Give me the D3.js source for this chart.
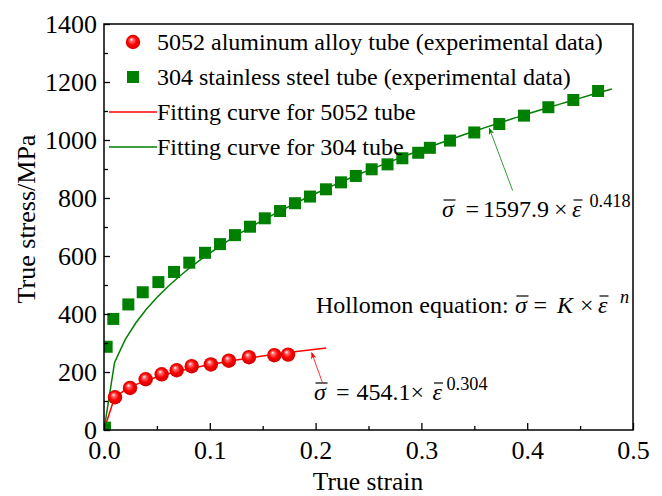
<!DOCTYPE html>
<html>
<head>
<meta charset="utf-8">
<script src="https://cdn.jsdelivr.net/npm/d3@7/dist/d3.min.js"></script>
<style>
  html, body { margin: 0; padding: 0; background: #fff; }
  svg { display: block; }
</style>
</head>
<body>
<svg id="chart" width="662" height="496"></svg>
<script>
// Experimental true stress–strain data
const alStrain = [0.0104, 0.0246, 0.0394, 0.0545, 0.0687, 0.0829, 0.101, 0.118, 0.137, 0.161, 0.174];
const alStress = [113, 145, 175, 192, 206, 220, 226, 239, 251, 258, 260];

const ssStrain = [0.001, 0.0025, 0.0088, 0.023, 0.0366, 0.0514, 0.0662, 0.0806, 0.0955, 0.1096, 0.1238,
                  0.138, 0.152, 0.1664, 0.1805, 0.1947, 0.2098, 0.224, 0.238, 0.253, 0.268, 0.282,
                  0.297, 0.308, 0.327, 0.35, 0.3736, 0.397, 0.42, 0.4436, 0.467];
const ssStress = [8, 287, 383, 433, 475, 510, 545, 577, 611, 641, 672,
                  701, 730, 755, 782, 805, 830, 854, 876, 899, 916, 937,
                  956, 973, 998, 1026, 1055, 1084, 1113, 1138, 1169];

// Hollomon fitting curves, sampled every 0.01 strain
const alFitStrain = [0, 0.01, 0.02, 0.03, 0.04, 0.05, 0.06, 0.07, 0.08, 0.09, 0.10, 0.11,
                     0.12, 0.13, 0.14, 0.15, 0.16, 0.17, 0.18, 0.19, 0.20, 0.21];
const alFitStress = [0, 112.0, 138.3, 156.4, 170.7, 182.7, 193.1, 202.3, 210.7, 218.4, 225.5, 232.1,
                     238.4, 244.2, 249.8, 255.1, 260.2, 265.0, 269.6, 274.1, 278.4, 282.6];

const ssFitStrain = [0, 0.01, 0.02, 0.03, 0.04, 0.05, 0.06, 0.07, 0.08, 0.09, 0.10, 0.11, 0.12,
                     0.13, 0.14, 0.15, 0.16, 0.17, 0.18, 0.19, 0.20, 0.21, 0.22, 0.23, 0.24, 0.25,
                     0.26, 0.27, 0.28, 0.29, 0.30, 0.31, 0.32, 0.33, 0.34, 0.35, 0.36, 0.37, 0.38,
                     0.39, 0.40, 0.41, 0.42, 0.43, 0.44, 0.45, 0.46, 0.47, 0.48];
const ssFitStress = [0, 233.1, 311.4, 369.0, 416.1, 456.8, 493.0, 525.8, 556.0, 584.1, 610.3, 635.1, 658.7,
                     681.1, 702.5, 723.1, 742.8, 761.9, 780.3, 798.2, 815.5, 832.3, 848.6, 864.5, 880.1, 895.2,
                     910.0, 924.5, 938.6, 952.5, 966.1, 979.4, 992.5, 1005.3, 1018.0, 1030.4, 1042.6, 1054.6, 1066.4,
                     1078.1, 1089.5, 1100.8, 1112.0, 1122.9, 1133.8, 1144.5, 1155.1, 1165.5, 1175.8];

// Axis ticks
const xTicks = [0.0, 0.1, 0.2, 0.3, 0.4, 0.5];
const xMinor = [0.05, 0.15, 0.25, 0.35, 0.45];
const yTicks = [0, 200, 400, 600, 800, 1000, 1200, 1400];
const yMinor = [100, 300, 500, 700, 900, 1100, 1300];

// Legend entries
const legendLabels = [
  "5052 aluminum alloy tube (experimental data)",
  "304 stainless steel tube (experimental data)",
  "Fitting curve for 5052 tube",
  "Fitting curve for 304 tube"
];

const FONT = '"Liberation Serif", "Times New Roman", "DejaVu Serif", serif';
const RED = "#ff0000";
const GREEN = "#008000";

const svg = d3.select("#chart").style("font-family", FONT);
const W = 662, H = 496;
const m = { left: 104, top: 24, right: 29, bottom: 66 };
const iw = W - m.left - m.right, ih = H - m.top - m.bottom;

const x = d3.scaleLinear().domain([0, 0.5]).range([0, iw]);
const y = d3.scaleLinear().domain([0, 1400]).range([ih, 0]);

const defs = svg.append("defs");
const grad = defs.append("radialGradient").attr("id", "ball")
  .attr("cx", "50%").attr("cy", "50%").attr("r", "55%")
  .attr("fx", "38%").attr("fy", "32%");
grad.append("stop").attr("offset", "0%").attr("stop-color", "#ffffff");
grad.append("stop").attr("offset", "22%").attr("stop-color", "#ff6a6a");
grad.append("stop").attr("offset", "55%").attr("stop-color", "#ff0000");
grad.append("stop").attr("offset", "100%").attr("stop-color", "#c80000");

defs.append("clipPath").attr("id", "plotClip")
  .append("rect").attr("width", iw).attr("height", ih);

["red", "green"].forEach(c => {
  defs.append("marker").attr("id", "arrow-" + c)
    .attr("viewBox", "0 0 10 10").attr("refX", 9).attr("refY", 5)
    .attr("markerWidth", 9).attr("markerHeight", 7).attr("markerUnits", "userSpaceOnUse")
    .attr("orient", "auto")
    .append("path").attr("d", "M0,1 L10,5 L0,9 L3,5 Z")
    .attr("fill", c === "red" ? RED : GREEN);
});

const g = svg.append("g").attr("transform", `translate(${m.left},${m.top})`);
const plot = g.append("g").attr("clip-path", "url(#plotClip)");

// Fitting curves
const line = d3.line().x(d => x(d[0])).y(d => y(d[1]));
plot.append("path").datum(d3.zip(ssFitStrain, ssFitStress))
  .attr("d", line).attr("fill", "none").attr("stroke", GREEN).attr("stroke-width", 1.5);
plot.append("path").datum(d3.zip(alFitStrain, alFitStress))
  .attr("d", line).attr("fill", "none").attr("stroke", RED).attr("stroke-width", 1.5);

// Experimental points
const sq = 12;
plot.selectAll("rect.ss").data(d3.zip(ssStrain, ssStress)).join("rect")
  .attr("class", "ss")
  .attr("x", d => x(d[0]) - sq / 2).attr("y", d => y(d[1]) - sq / 2)
  .attr("width", sq).attr("height", sq).attr("fill", GREEN);
plot.selectAll("circle.al").data(d3.zip(alStrain, alStress)).join("circle")
  .attr("class", "al")
  .attr("cx", d => x(d[0])).attr("cy", d => y(d[1])).attr("r", 7.2)
  .attr("fill", "url(#ball)");

// Axes (ticks point inward)
g.append("g").attr("transform", `translate(0,${ih})`)
  .call(d3.axisBottom(x).tickValues(xTicks).tickFormat(d3.format(".1f"))
    .tickSizeInner(-7).tickSizeOuter(0).tickPadding(11));
g.append("g").attr("transform", `translate(0,${ih})`)
  .call(d3.axisBottom(x).tickValues(xMinor).tickFormat("").tickSizeInner(-4).tickSizeOuter(0));
g.append("g")
  .call(d3.axisLeft(y).tickValues(yTicks).tickFormat(d3.format("d"))
    .tickSizeInner(-6).tickSizeOuter(0).tickPadding(7));
g.append("g")
  .call(d3.axisLeft(y).tickValues(yMinor).tickFormat("").tickSizeInner(-4).tickSizeOuter(0));

g.selectAll(".tick line").attr("stroke", "#000").attr("stroke-width", 1.3);
g.selectAll(".domain").remove();
g.selectAll(".tick text").style("font-family", FONT).attr("font-size", 26).attr("fill", "#000");

// Frame
g.append("rect").attr("width", iw).attr("height", ih)
  .attr("fill", "none").attr("stroke", "#000").attr("stroke-width", 1.5);

// Axis titles
svg.append("text").attr("x", m.left + x(0.25) - 0.5).attr("y", 490)
  .attr("text-anchor", "middle").attr("font-size", 25.5).style("font-family", FONT).text("True strain");
svg.append("text").attr("transform", `translate(35,219) rotate(-90)`)
  .attr("text-anchor", "middle").attr("font-size", 26).style("font-family", FONT).text("True stress/MPa");

// Legend
const lg = g.append("g");
const rowY = [18, 53, 88, 123];
const legFS = 24;
lg.append("circle").attr("cx", 29).attr("cy", rowY[0]).attr("r", 7.2).attr("fill", "url(#ball)");
lg.append("rect").attr("x", 23).attr("y", rowY[1] - 6).attr("width", sq).attr("height", sq).attr("fill", GREEN);
lg.append("line").attr("x1", 5).attr("x2", 53).attr("y1", rowY[2]).attr("y2", rowY[2]).attr("stroke", RED).attr("stroke-width", 1.5);
lg.append("line").attr("x1", 5).attr("x2", 53).attr("y1", rowY[3]).attr("y2", rowY[3]).attr("stroke", GREEN).attr("stroke-width", 1.5);
legendLabels.forEach((t, i) => {
  lg.append("text").attr("x", 53).attr("y", rowY[i] + 8).attr("font-size", legFS)
    .style("font-family", FONT).text(t);
});

// Equation helper: each piece placed at its own x; overlined symbols get a bar
function equation(baseY, fs, parts) {
  const eg = svg.append("g");
  parts.forEach(p => {
    const size = p.sup ? fs * 0.76 : fs;
    const t = eg.append("text").attr("x", p.x).attr("y", p.sup ? baseY - 10 : baseY)
      .attr("font-size", size).style("font-family", FONT)
      .attr("font-style", p.it ? "italic" : "normal").text(p.t);
    if (p.bar) {
      const b = t.node().getBBox();
      eg.append("line").attr("x1", b.x + 1.5).attr("x2", b.x + b.width + 0.5)
        .attr("y1", baseY - 17).attr("y2", baseY - 17)
        .attr("stroke", "#000").attr("stroke-width", 1.2);
    }
  });
}

equation(217, 24, [
  { t: "σ", it: true, bar: true, x: 442 }, { t: "=", x: 465.5 }, { t: "1597.9", x: 483 },
  { t: "×", x: 554 }, { t: "ε", it: true, bar: true, x: 572 }, { t: "0.418", sup: true, x: 589.5 }
]);
equation(400, 24, [
  { t: "σ", it: true, bar: true, x: 314 }, { t: "=", x: 336 }, { t: "454.1", x: 356.5 },
  { t: "×", x: 410.5 }, { t: "ε", it: true, bar: true, x: 432.5 }, { t: "0.304", sup: true, x: 446.5 }
]);
equation(313, 24, [
  { t: "Hollomon equation:", x: 316 }, { t: "σ", it: true, bar: true, x: 515 }, { t: "=", x: 533.5 },
  { t: "K", it: true, x: 557 }, { t: "×", x: 580 }, { t: "ε", it: true, bar: true, x: 598 },
  { t: "n", it: true, sup: true, x: 620 }
]);

// Annotation arrows pointing at the fitting curves
svg.append("line").attr("x1", 512.7).attr("y1", 190.7).attr("x2", 489.3).attr("y2", 128.3)
  .attr("stroke", GREEN).attr("stroke-width", 0.8).attr("marker-end", "url(#arrow-green)");
svg.append("line").attr("x1", 322.3).attr("y1", 382.3).attr("x2", 311.7).attr("y2", 352.7)
  .attr("stroke", RED).attr("stroke-width", 0.8).attr("marker-end", "url(#arrow-red)");
</script>
</body>
</html>
